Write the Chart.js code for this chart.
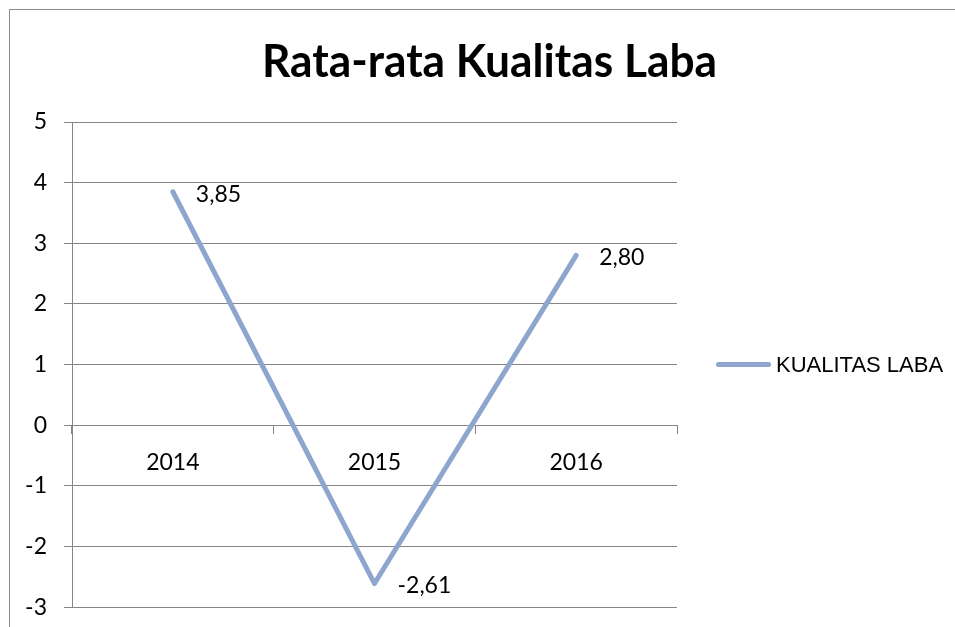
<!DOCTYPE html>
<html><head><meta charset="utf-8">
<script src="https://cdn.jsdelivr.net/npm/chart.js@4.4.1/dist/chart.umd.min.js"></script>
<style>
html,body{margin:0;padding:0;background:#fff;overflow:hidden;width:955px;height:627px}
#frame{position:absolute;left:9px;top:9px;width:1000px;height:700px;border-left:1px solid #8c8c8c;border-top:1px solid #8c8c8c;box-sizing:border-box}
#wrap{position:absolute;left:0;top:0;width:955px;height:638px}
</style></head><body>
<div id="frame"></div>
<div id="wrap"><canvas id="c" width="955" height="638"></canvas></div>
<script>
const chartTitle = 'Rata-rata Kualitas Laba';
const seriesName = 'KUALITAS LABA';
const categories = ['2014', '2015', '2016'];
const kualitasLaba = [3.85, -2.61, 2.80];
const dataLabels = ['3,85', '-2,61', '2,80'];
const yTicks = [5, 4, 3, 2, 1, 0, -1, -2, -3];

const LINE_COLOR = '#8EA6CE';
const GRID_COLOR = '#868686';
const NUM_FONT = {family: 'Lato', size: 23};

const titlePlugin = {
  id: 'customTitle',
  afterDraw(chart) {
    const ctx = chart.ctx;
    ctx.save();
    ctx.font = 'bold 45px Lato';
    ctx.fillStyle = '#000';
    ctx.textAlign = 'center';
    ctx.textBaseline = 'alphabetic';
    ctx.fillText(chartTitle, 489.5, 77, 455);
    ctx.restore();
  }
};

const dataLabelPlugin = {
  id: 'dataLabels',
  afterDatasetsDraw(chart) {
    const ctx = chart.ctx;
    const meta = chart.getDatasetMeta(0);
    ctx.save();
    ctx.font = NUM_FONT.size + 'px ' + NUM_FONT.family;
    ctx.fillStyle = '#000';
    ctx.textAlign = 'left';
    ctx.textBaseline = 'middle';
    meta.data.forEach((el, i) => {
      ctx.fillText(dataLabels[i], el.x + 23, el.y + 2.5);
    });
    ctx.restore();
  }
};

const legendPlugin = {
  id: 'customLegend',
  afterDraw(chart) {
    const ctx = chart.ctx;
    const a = chart.chartArea;
    const cy = (a.top + a.bottom) / 2;
    const x0 = a.right + 39;
    ctx.save();
    ctx.strokeStyle = LINE_COLOR;
    ctx.lineWidth = 5;
    ctx.lineCap = 'round';
    ctx.beginPath();
    ctx.moveTo(x0 + 2.5, cy);
    ctx.lineTo(x0 + 52.5, cy);
    ctx.stroke();
    ctx.font = '22px "Liberation Sans"';
    ctx.fillStyle = '#000';
    ctx.textAlign = 'left';
    ctx.textBaseline = 'middle';
    ctx.fillText(chart.data.datasets[0].label, x0 + 60, cy + 1);
    ctx.restore();
  }
};

new Chart(document.getElementById('c'), {
  type: 'line',
  data: {
    labels: categories,
    datasets: [{
      label: seriesName,
      data: kualitasLaba,
      borderColor: LINE_COLOR,
      backgroundColor: LINE_COLOR,
      borderWidth: 5,
      borderCapStyle: 'round',
      borderJoinStyle: 'round',
      pointRadius: 0,
      pointHoverRadius: 0,
      tension: 0,
      fill: false
    }]
  },
  options: {
    responsive: false,
    animation: false,
    devicePixelRatio: 1,
    layout: {padding: {left: 0, right: 278, top: 122, bottom: 9}},
    plugins: {
      legend: {display: false},
      title: {display: false},
      tooltip: {enabled: false}
    },
    scales: {
      x: {
        type: 'category',
        position: {y: 0},
        offset: true,
        grid: {display: true, drawOnChartArea: false, drawTicks: true, tickLength: 8, offset: true, color: GRID_COLOR, lineWidth: 1},
        border: {display: true, color: GRID_COLOR, width: 1},
        ticks: {font: NUM_FONT, color: '#000', padding: 16, maxRotation: 0, autoSkip: false}
      },
      y: {
        type: 'linear',
        min: -3,
        max: 5,
        afterFit(scale) { scale.width = 72; },
        afterBuildTicks(scale) { scale.ticks = yTicks.map(v => ({value: v})); },
        grid: {color: GRID_COLOR, lineWidth: 1, drawTicks: true, tickLength: 8},
        border: {display: true, color: GRID_COLOR, width: 1},
        ticks: {font: NUM_FONT, color: '#000', padding: 17, callback: v => String(v)}
      }
    }
  },
  plugins: [titlePlugin, dataLabelPlugin, legendPlugin]
});
</script>
</body></html>
